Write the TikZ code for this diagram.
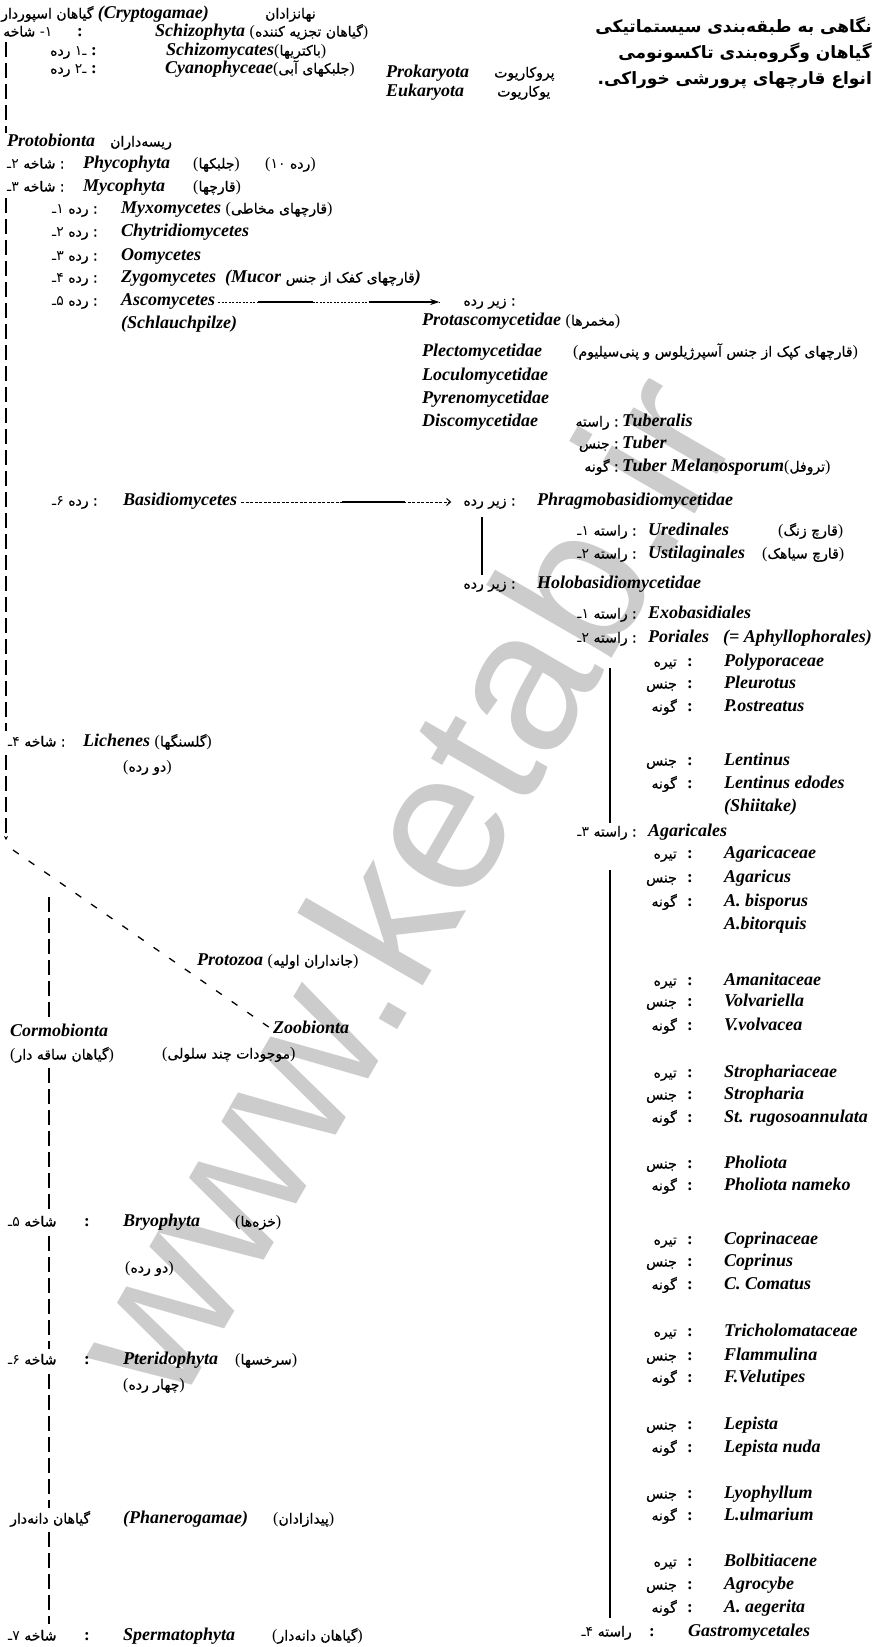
\documentclass[tikz,border=0pt]{standalone}
\usepackage{fontspec}
\setmainfont{Liberation Serif}
\newfontfamily\farsi[Script=Arabic, UprightFeatures={FakeBold=0.6}]{DejaVu Sans}
\newfontfamily\fanum{DejaVu Sans}
\newfontfamily\wmfont{Liberation Sans}
\TeXXeTstate=1
\usetikzlibrary{arrows.meta,calc}
\newcommand\pf{\normalfont\farsi\fontsize{14}{16}\selectfont}
\newcommand\pn{\normalfont\fanum\fontsize{14}{16}\selectfont}
\newcommand\latp{\normalfont\fontsize{16}{18}\selectfont}
\newcommand\fa[1]{{\pf\beginR#1\endR}}
\newcommand\fap[1]{{\latp(}\fa{#1}{\latp)}}
\newcommand\nd[1]{{\pn#1}}
\tikzset{
 lat/.style={inner sep=0pt, text height=11pt, text depth=4pt, font=\fontsize{18}{20}\selectfont\bfseries\itshape, anchor=west},
 fal/.style={inner sep=0pt, text height=11pt, text depth=4pt, font=\pf, anchor=west},
 far/.style={inner sep=0pt, text height=11pt, text depth=4pt, font=\pf, anchor=east},
 col/.style={inner sep=0pt, text height=11pt, text depth=4pt, font=\fontsize{17}{20}\selectfont\bfseries, anchor=center},
 tit/.style={inner sep=0pt, font=\normalfont\farsi\bfseries\fontsize{17}{20}\selectfont, anchor=east},
 wm/.style={inner sep=0pt, rotate=60, anchor=base west, text=black!20, font=\wmfont\fontsize{200}{200}\selectfont},
 vline/.style={line width=1.3pt, dash pattern=on 15pt off 6pt},
 sline/.style={line width=1.3pt},
 diag/.style={line width=1.3pt, dash pattern=on 7pt off 12pt},
}
\newcommand\taxrow[4]{%
 \node[far] (#1p) at (677,#2) {\fa{#3}};
 \node[col] (#1c) at (690,#2) {:};
 \node[lat] (#1) at (724,#2) {#4};}
\begin{document}
\begin{tikzpicture}[x=1pt,y=-1pt]
\useasboundingbox (0,0) rectangle (887,1647);
\fill[white] (0,0) rectangle (887,1647);
\node[wm] (wmk) at (177,1411) {www.ketab.ir};

% title
\node[tit] (t1) at (872,26) {\beginR نگاهی به طبقه‌بندی سیستماتیکی\endR};
\node[tit] (t2) at (872,53) {\beginR گیاهان وگروه‌بندی تاکسونومی\endR};
\node[tit] (t3) at (872,80) {.\beginR انواع قارچهای پرورشی خوراکی\endR};

% top block
\node[fal] (spor) at (1,15) {\fa{گیاهان اسپوردار}};
\node[lat] (crypt) at ($(spor.east)+(4,0)$) {(Cryptogamae)};
\node[fal] (nahan) at (265,15) {\fa{نهانزادان}};

\node[fal] (sh1) at (3,33) {\fa{شاخه} \nd{-۱}};
\node[col] (sh1c) at (80,33) {:};
\node[lat] (schph) at (155,33) {Schizophyta \fap{گیاهان تجزیه کننده}};

\node[fal] (cl1) at (50,52) {\fa{رده} \nd{ـ۱}};
\node[col] (cl1c) at (94,52) {:};
\node[lat] (schm) at (166,52) {Schizomycates\fap{باکتریها}};

\node[fal] (cl2) at (50,70) {\fa{رده} \nd{ـ۲}};
\node[col] (cl2c) at (94,70) {:};
\node[lat] (cyan) at (165,70) {Cyanophyceae\fap{جلبکهای آبی}};
\node[lat] (prok) at (386,74) {Prokaryota};
\node[fal] (prokf) at (494,74) {\fa{پروکاریوت}};
\node[lat] (euk) at (386,93) {Eukaryota};
\node[fal] (eukf) at (497,93) {\fa{یوکاریوت}};

% Protobionta
\node[lat] (protob) at (7,143) {Protobionta};
\node[fal] (riseh) at (110,143) {\fa{ریسه‌داران}};
\node[fal] (sh2) at (7,165) {\nd{۲ـ} \fa{شاخه} :};
\node[lat] (phyco) at (83,165) {Phycophyta};
\node[fal] (phycof) at (193,165) {\fap{جلبکها}};
\node[fal] (phycon) at (265,165) {{\latp(}\nd{۱۰} \fa{رده}{\latp)}};
\node[fal] (sh3) at (7,188) {\nd{۳ـ} \fa{شاخه} :};
\node[lat] (myco) at (83,188) {Mycophyta};
\node[fal] (mycof) at (193,188) {\fap{قارچها}};

% classes of Mycophyta
\node[far] (k1) at (98,210) {\nd{۱ـ} \fa{رده} :};
\node[lat] (myxo) at (121,210) {Myxomycetes \fap{قارچهای مخاطی}};
\node[far] (k2) at (98,233) {\nd{۲ـ} \fa{رده} :};
\node[lat] (chyt) at (121,233) {Chytridiomycetes};
\node[far] (k3) at (98,257) {\nd{۳ـ} \fa{رده} :};
\node[lat] (oomy) at (121,257) {Oomycetes};
\node[far] (k4) at (98,279) {\nd{۴ـ} \fa{رده} :};
\node[lat] (zygo) at (121,279) {Zygomycetes};
\node[lat] (mucor) at (225,279) {(Mucor \fa{قارچهای کفک از جنس})};
\node[far] (k5) at (98,302) {\nd{۵ـ} \fa{رده} :};
\node[lat] (asco) at (121,302) {Ascomycetes};
\node[lat] (schl) at (121,325) {(Schlauchpilze)};
\node[far] (zr1) at (516,302) {\fa{زیر رده} :};

\node[lat] (prota) at (422,322) {Protascomycetidae \fap{مخمرها}};
\node[lat] (plect) at (422,353) {Plectomycetidae};
\node[fal] (plectf) at (573,353) {\fap{قارچهای کپک از جنس آسپرژیلوس و پنی‌سیلیوم}};
\node[lat] (locu) at (422,377) {Loculomycetidae};
\node[lat] (pyre) at (422,400) {Pyrenomycetidae};
\node[lat] (disco) at (422,423) {Discomycetidae};
\node[far] (tubr) at (619,423) {\fa{راسته} :};
\node[lat] (tuberalis) at (622,423) {Tuberalis};
\node[far] (tubg) at (619,445) {\fa{جنس} :};
\node[lat] (tuber) at (622,445) {Tuber};
\node[far] (tubs) at (619,468) {\fa{گونه} :};
\node[lat] (tubmel) at (622,468) {Tuber Melanosporum\fap{تروفل}};

% Basidiomycetes
\node[far] (k6) at (98,502) {\nd{۶ـ} \fa{رده} :};
\node[lat] (basid) at (123,502) {Basidiomycetes};
\node[far] (zr2) at (516,502) {\fa{زیر رده} :};
\node[lat] (phrag) at (537,502) {Phragmobasidiomycetidae};
\node[far] (o1) at (637,532) {\nd{۱ـ} \fa{راسته} :};
\node[lat] (ured) at (648,532) {Uredinales};
\node[fal] (uredf) at (778,532) {\fap{قارچ زنگ}};
\node[far] (o2) at (637,555) {\nd{۲ـ} \fa{راسته} :};
\node[lat] (ustil) at (648,555) {Ustilaginales};
\node[fal] (ustilf) at (762,555) {\fap{قارچ سیاهک}};
\node[far] (zr3) at (516,585) {\fa{زیر رده} :};
\node[lat] (holo) at (537,585) {Holobasidiomycetidae};
\node[far] (o3) at (637,615) {\nd{۱ـ} \fa{راسته} :};
\node[lat] (exob) at (648,615) {Exobasidiales};
\node[far] (o4) at (637,639) {\nd{۲ـ} \fa{راسته} :};
\node[lat] (poria) at (648,639) {Poriales};
\node[lat] (aphyl) at (723,639) {(= Aphyllophorales)};

\taxrow{polyp}{663}{تیره}{Polyporaceae}
\taxrow{pleur}{685}{جنس}{Pleurotus}
\taxrow{postr}{708}{گونه}{P.ostreatus}
\taxrow{lent}{762}{جنس}{Lentinus}
\taxrow{lented}{785}{گونه}{Lentinus edodes}
\node[lat] (shii) at (724,808) {(Shiitake)};
\node[far] (o5) at (637,833) {\nd{۳ـ} \fa{راسته} :};
\node[lat] (agaral) at (648,833) {Agaricales};
\taxrow{agarac}{855}{تیره}{Agaricaceae}
\taxrow{agarg}{879}{جنس}{Agaricus}
\taxrow{abisp}{903}{گونه}{A. bisporus}
\node[lat] (abit) at (724,926) {A.bitorquis};
\taxrow{amani}{982}{تیره}{Amanitaceae}
\taxrow{volv}{1003}{جنس}{Volvariella}
\taxrow{vvolv}{1027}{گونه}{V.volvacea}
\taxrow{stroph}{1074}{تیره}{Strophariaceae}
\taxrow{strg}{1096}{جنس}{Stropharia}
\taxrow{strs}{1119}{گونه}{St. rugosoannulata}
\taxrow{phol}{1165}{جنس}{Pholiota}
\taxrow{pholn}{1187}{گونه}{Pholiota nameko}
\taxrow{copr}{1241}{تیره}{Coprinaceae}
\taxrow{coprg}{1263}{جنس}{Coprinus}
\taxrow{coprs}{1286}{گونه}{C. Comatus}
\taxrow{trich}{1333}{تیره}{Tricholomataceae}
\taxrow{flam}{1357}{جنس}{Flammulina}
\taxrow{fvel}{1379}{گونه}{F.Velutipes}
\taxrow{lep}{1426}{جنس}{Lepista}
\taxrow{lepn}{1449}{گونه}{Lepista nuda}
\taxrow{lyo}{1495}{جنس}{Lyophyllum}
\taxrow{lulm}{1517}{گونه}{L.ulmarium}
\taxrow{bolb}{1563}{تیره}{Bolbitiacene}
\taxrow{agro}{1586}{جنس}{Agrocybe}
\taxrow{aaeg}{1609}{گونه}{A. aegerita}
\node[far] (o6) at (632,1633) {\nd{۴ـ} \fa{راسته}};
\node[col] (o6c) at (652,1633) {:};
\node[lat] (gastro) at (688,1633) {Gastromycetales};

% Lichenes
\node[fal] (sh4) at (8,743) {\nd{۴ـ} \fa{شاخه} :};
\node[lat] (lich) at (83,743) {Lichenes \fap{گلسنگها}};
\node[fal] (lich2) at (123,768) {\fap{دو رده}};

% lower left
\node[lat] (protoz) at (197,962) {Protozoa \fap{جانداران اولیه}};
\node[lat] (cormo) at (10,1033) {Cormobionta};
\node[fal] (cormof) at (10,1056) {\fap{گیاهان ساقه دار}};
\node[lat] (zoo) at (273,1030) {Zoobionta};
\node[fal] (zoof) at (162,1055) {\fap{موجودات چند سلولی}};

\node[fal] (sh5) at (8,1223) {\nd{۵ـ} \fa{شاخه}};
\node[col] (sh5c) at (87,1223) {:};
\node[lat] (bryo) at (123,1223) {Bryophyta};
\node[fal] (bryof) at (235,1223) {\fap{خزه‌ها}};
\node[fal] (bryo2) at (125,1269) {\fap{دو رده}};
\node[fal] (sh6) at (8,1361) {\nd{۶ـ} \fa{شاخه}};
\node[col] (sh6c) at (87,1361) {:};
\node[lat] (pter) at (123,1361) {Pteridophyta};
\node[fal] (pterf) at (235,1361) {\fap{سرخسها}};
\node[fal] (pter2) at (123,1386) {\fap{چهار رده}};
\node[fal] (phanf) at (10,1520) {\fa{گیاهان دانه‌دار}};
\node[lat] (phan) at (123,1520) {(Phanerogamae)};
\node[fal] (phanf2) at (273,1520) {\fap{پیدازادان}};
\node[fal] (sh7) at (8,1637) {\nd{۷ـ} \fa{شاخه}};
\node[col] (sh7c) at (87,1637) {:};
\node[lat] (sperm) at (123,1637) {Spermatophyta};
\node[fal] (spermf) at (272,1637) {\fap{گیاهان دانه‌دار}};

% arrows Ascomycetes
\coordinate (asT) at ($(zr1.west)+(-24,0)$);
\coordinate (asS) at ($(asco.east)+(3,0)$);
\draw[line width=1pt, dash pattern=on 2pt off 1.5pt] (asS) -- (asT);
\draw[line width=1.2pt] ($(asS)!0.18!(asT)$) -- ($(asS)!0.43!(asT)$);
\draw[line width=1.2pt, -{Stealth[length=9pt,width=6pt]}] ($(asS)!0.68!(asT)$) -- (asT);

% arrow Basidiomycetes
\coordinate (baT) at ($(zr2.west)+(-12,0)$);
\coordinate (baS) at ($(basid.east)+(4,0)$);
\draw[line width=1pt, dash pattern=on 3pt off 1.5pt, -{Straight Barb[length=4pt,width=7pt]}] (baS) -- (baT);
\draw[line width=1.2pt] ($(baS)!0.48!(baT)$) -- ($(baS)!0.78!(baT)$);

% vertical line between subclasses
\coordinate (s0) at (482,517);
\coordinate (s1) at (482,575);
\draw[sline] (s0) -- (s1);

% vertical line of orders
\coordinate (v0) at (610,668);
\coordinate (v1) at (610,823);
\coordinate (v2) at (610,870);
\coordinate (v3) at (610,1618);
\draw[sline] (v0) -- (v1);
\draw[sline] (v2) -- (v3);

% left dashed line
\coordinate (L0) at (6,42);
\coordinate (L1) at (6,133);
\coordinate (L2) at (6,198);
\coordinate (L3) at (6,731);
\coordinate (L4) at (6,755);
\coordinate (L5) at (6,840);
\draw[vline] (L0) -- (L1);
\draw[vline] (L2) -- (L3);
\draw[vline, -{Stealth[length=4pt,width=4pt]}] (L4) -- (L5);

% diagonal
\coordinate (D0) at (13,850);
\draw[diag] (D0) -- (zoo.west);

% second vertical
\coordinate (M0) at (49,897);
\coordinate (M1) at (49,1019);
\coordinate (M2) at (49,1068);
\coordinate (M3) at (49,1211);
\coordinate (M4) at (49,1236);
\coordinate (M5) at (49,1349);
\coordinate (M6) at (49,1374);
\coordinate (M7) at (49,1508);
\coordinate (M8) at (49,1532);
\coordinate (M9) at (49,1624);
\draw[vline] (M0) -- (M1);
\draw[vline] (M2) -- (M3);
\draw[vline] (M4) -- (M5);
\draw[vline] (M6) -- (M7);
\draw[vline] (M8) -- (M9);
\end{tikzpicture}
\end{document}
